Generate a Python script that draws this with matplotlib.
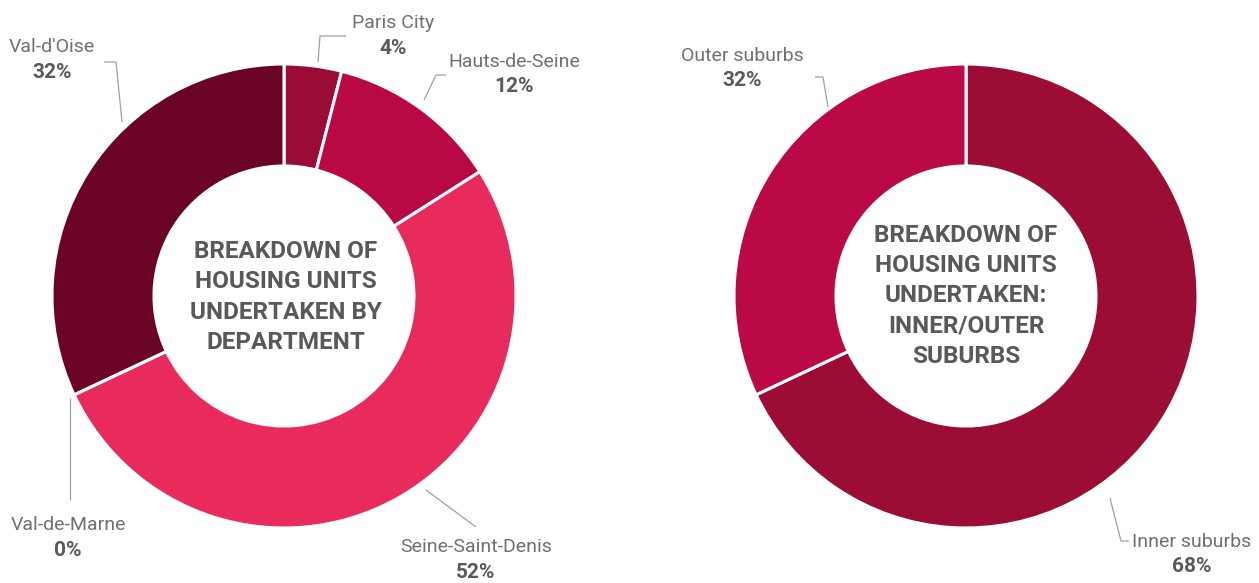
import matplotlib
matplotlib.use("Agg")
import matplotlib.pyplot as plt

# housing units undertaken, share by department (clockwise from 12 o'clock)
dept_labels = ["Paris City", "Hauts-de-Seine", "Seine-Saint-Denis", "Val-de-Marne", "Val-d'Oise"]
dept_shares = [4, 12, 52, 0, 32]
dept_colors = ["#9a0b35", "#b90846", "#e82a5c", "#e82a5c", "#6a0325"]

# same total split between inner and outer suburbs
ring_labels = ["Inner suburbs", "Outer suburbs"]
ring_shares = [68, 32]
ring_colors = ["#9c0d36", "#bb0846"]

W, H = 1259, 583
FONT = ["Roboto", "DejaVu Sans"]
LABEL_GREY = "#707070"
PCT_GREY = "#5a5a5a"
LEADER_GREY = "#a0a0a0"


def flip(pts):
    # layout below is written top-down, axes run bottom-up
    return [x for x, _ in pts], [H - y for _, y in pts]


def donut(ax, values, colors, cx, cy):
    ax.pie(values, colors=colors, startangle=90, counterclock=False,
           radius=232, center=(cx, H - cy),
           wedgeprops=dict(width=102, edgecolor="white", linewidth=2.2))


def callout(ax, name, value, tx, ty, leader):
    ax.text(tx, H - ty, name, ha="center", va="center", fontsize=14,
            fontweight="normal", color=LABEL_GREY, family=FONT)
    ax.text(tx, H - ty - 25, f"{value}%", ha="center", va="center", fontsize=15,
            fontweight="bold", color=PCT_GREY, family=FONT)
    xs, ys = flip(leader)
    ax.plot(xs, ys, color=LEADER_GREY, lw=0.9, solid_capstyle="butt")


fig = plt.figure(figsize=(W / 100, H / 100), dpi=100)
ax = fig.add_axes([0, 0, 1, 1])

donut(ax, dept_shares, dept_colors, 284, 296)
donut(ax, ring_shares, ring_colors, 966, 296)

# label anchor (centre of name line) and leader polyline per slice
dept_layout = {
    "Paris City": ((393, 23), [(318, 62), (320, 36), (346, 36)]),
    "Hauts-de-Seine": ((514, 62), [(424, 100), (436, 75), (446, 75)]),
    "Seine-Saint-Denis": ((476, 547), [(426, 490), (476, 527)]),
    "Val-de-Marne": ((68, 525), [(70, 398), (70, 500)]),
    "Val-d'Oise": ((52, 47), [(122, 122), (116, 62), (104, 62)]),
}
ring_layout = {
    "Outer suburbs": ((742, 56), [(828, 107), (823, 77), (815, 77)]),
    "Inner suburbs": ((1192, 542), [(1110, 498), (1121, 541), (1129, 541)]),
}

for name, val in zip(dept_labels, dept_shares):
    (tx, ty), leader = dept_layout[name]
    callout(ax, name, val, tx, ty, leader)
for name, val in zip(ring_labels, ring_shares):
    (tx, ty), leader = ring_layout[name]
    callout(ax, name, val, tx, ty, leader)

center_kw = dict(ha="center", va="center", fontsize=17.5, fontweight="bold",
                 color="#595959", family=FONT, linespacing=1.4)
ax.text(286, H - 297, "BREAKDOWN OF\nHOUSING UNITS\nUNDERTAKEN BY\nDEPARTMENT", **center_kw)
ax.text(966, H - 296, "BREAKDOWN OF\nHOUSING UNITS\nUNDERTAKEN:\nINNER/OUTER\nSUBURBS", **center_kw)

ax.set_xlim(0, W)
ax.set_ylim(0, H)
ax.set_aspect("equal")
ax.axis("off")

fig.savefig("out.png", dpi=100, facecolor="white")
